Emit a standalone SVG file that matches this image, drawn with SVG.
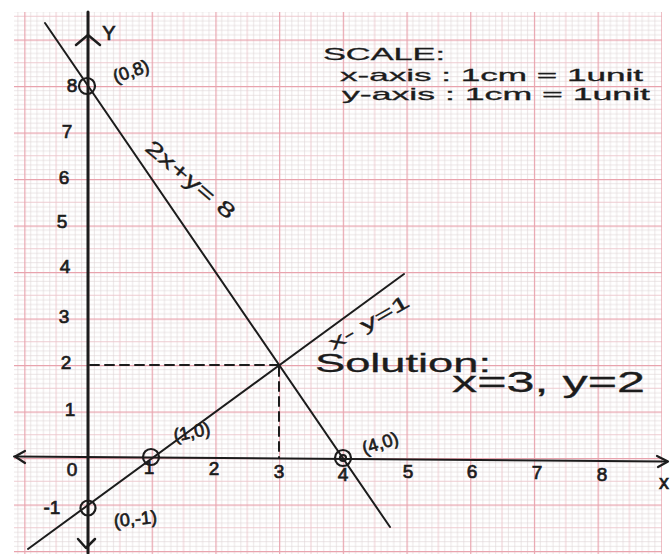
<svg xmlns="http://www.w3.org/2000/svg" width="671" height="554" viewBox="0 0 671 554">
  <defs>
    <pattern id="grid" patternUnits="userSpaceOnUse" x="88" y="458" width="63.7" height="46.5">
      <g stroke="#ddd3d5" stroke-width="0.6">
        <line x1="6.37" y1="0" x2="6.37" y2="46.5"/>
        <line x1="12.74" y1="0" x2="12.74" y2="46.5"/>
        <line x1="19.11" y1="0" x2="19.11" y2="46.5"/>
        <line x1="25.48" y1="0" x2="25.48" y2="46.5"/>
        <line x1="38.22" y1="0" x2="38.22" y2="46.5"/>
        <line x1="44.59" y1="0" x2="44.59" y2="46.5"/>
        <line x1="50.96" y1="0" x2="50.96" y2="46.5"/>
        <line x1="57.33" y1="0" x2="57.33" y2="46.5"/>
        <line x1="0" y1="4.65" x2="63.7" y2="4.65"/>
        <line x1="0" y1="9.3" x2="63.7" y2="9.3"/>
        <line x1="0" y1="13.95" x2="63.7" y2="13.95"/>
        <line x1="0" y1="18.6" x2="63.7" y2="18.6"/>
        <line x1="0" y1="27.9" x2="63.7" y2="27.9"/>
        <line x1="0" y1="32.55" x2="63.7" y2="32.55"/>
        <line x1="0" y1="37.2" x2="63.7" y2="37.2"/>
        <line x1="0" y1="41.85" x2="63.7" y2="41.85"/>
      </g>
      <g stroke="#ecc6cb" stroke-width="0.9">
        <line x1="31.85" y1="0" x2="31.85" y2="46.5"/>
        <line x1="0" y1="23.25" x2="63.7" y2="23.25"/>
      </g>
      <g stroke="#e8a3ad" stroke-width="2.4">
        <line x1="0" y1="0" x2="0" y2="46.5"/>
        <line x1="0" y1="0" x2="63.7" y2="0"/>
      </g>
    </pattern>
    <style>
      .ink { stroke: #1c1c1c; fill: none; stroke-linecap: round; stroke-linejoin: round; }
      .t { font-family: "Liberation Sans", "DejaVu Sans", sans-serif; fill: #1c1c1c; stroke: #1c1c1c; stroke-width: 0.7; }
      .thin { stroke-width: 0.3; }
      .num { font-size: 19px; text-anchor: middle; }
      .pt { font-size: 18px; text-anchor: middle; }
    </style>
  </defs>

  <rect x="0" y="0" width="671" height="554" fill="#ffffff"/>
  <rect id="paper" x="14" y="12" width="648" height="542" fill="url(#grid)"/>

  <g id="axes" class="ink">
    <line x1="88" y1="12" x2="88" y2="553" stroke-width="3"/>
    <polyline points="76,45 88,35 100,45" stroke-width="2.5"/>
    <polyline points="78,539 86,548 95,539" stroke-width="2.5"/>
    <line x1="14" y1="456.5" x2="666" y2="461.5" stroke-width="2"/>
    <polyline points="25,451 15,456.5 25,463" stroke-width="2.2"/>
    <polyline points="657,456 668,461.5 658,467" stroke-width="2.2"/>
  </g>

  <g id="connectors" class="ink">
    <line id="line-2x-y-8" x1="45" y1="23" x2="390" y2="527" stroke-width="2"/>
    <line id="line-x-y-1" x1="28" y1="549" x2="404" y2="274" stroke-width="2"/>
    <g stroke-width="2" stroke-dasharray="9 6">
      <line x1="90" y1="365" x2="279" y2="365"/>
      <line x1="279" y1="367" x2="279" y2="458"/>
    </g>
  </g>

  <g id="points" class="ink" stroke-width="2.2">
    <circle cx="87" cy="86" r="8"/>
    <circle cx="88" cy="508" r="7.5"/>
    <circle cx="151" cy="457" r="8"/>
    <circle cx="343" cy="458" r="8"/>
    <circle cx="343" cy="458" r="3"/>
  </g>

  <g id="y-labels" class="t num">
    <text x="72" y="92">8</text>
    <text x="67" y="138">7</text>
    <text x="64" y="184">6</text>
    <text x="62" y="228">5</text>
    <text x="65" y="273">4</text>
    <text x="64" y="323">3</text>
    <text x="66" y="369">2</text>
    <text x="70" y="416">1</text>
    <text x="72" y="476">0</text>
    <text x="52" y="514">-1</text>
  </g>

  <g id="x-labels" class="t num">
    <text x="149" y="474">1</text>
    <text x="214" y="475">2</text>
    <text x="279" y="478">3</text>
    <text x="343" y="481">4</text>
    <text x="408" y="478">5</text>
    <text x="472" y="478">6</text>
    <text x="537" y="479">7</text>
    <text x="602" y="481">8</text>
  </g>

  <g id="axis-names" class="t" font-size="20">
    <text x="109" y="40" text-anchor="middle">Y</text>
    <text x="664" y="489" text-anchor="middle">x</text>
  </g>

  <g id="point-labels" class="t pt">
    <text transform="translate(133,77) rotate(-19)">(0,8)</text>
    <text transform="translate(193,438) rotate(-12)">(1,0)</text>
    <text transform="translate(382,449) rotate(-18)">(4,0)</text>
    <text transform="translate(136,525) rotate(-6)">(0,-1)</text>
  </g>

  <g id="line-labels" class="t thin" text-anchor="middle">
    <text transform="translate(186,185) rotate(40)" font-size="21" textLength="110" lengthAdjust="spacingAndGlyphs">2x+y= 8</text>
    <text transform="translate(372,328) rotate(-30)" font-size="19" textLength="90" lengthAdjust="spacingAndGlyphs">x- y=1</text>
  </g>

  <g id="solution" class="t thin">
    <text x="315" y="372" font-size="25" textLength="176" lengthAdjust="spacingAndGlyphs">Solution:</text>
    <text x="452" y="392" font-size="29" textLength="193" lengthAdjust="spacingAndGlyphs">x=3, y=2</text>
  </g>

  <g id="scale" class="t thin">
    <text x="323" y="60" font-size="17" textLength="122" lengthAdjust="spacingAndGlyphs">SCALE:</text>
    <text x="340" y="81" font-size="17" textLength="303" lengthAdjust="spacingAndGlyphs">x-axis : 1cm = 1unit</text>
    <text x="342" y="100" font-size="17" textLength="308" lengthAdjust="spacingAndGlyphs">y-axis : 1cm = 1unit</text>
  </g>
</svg>
